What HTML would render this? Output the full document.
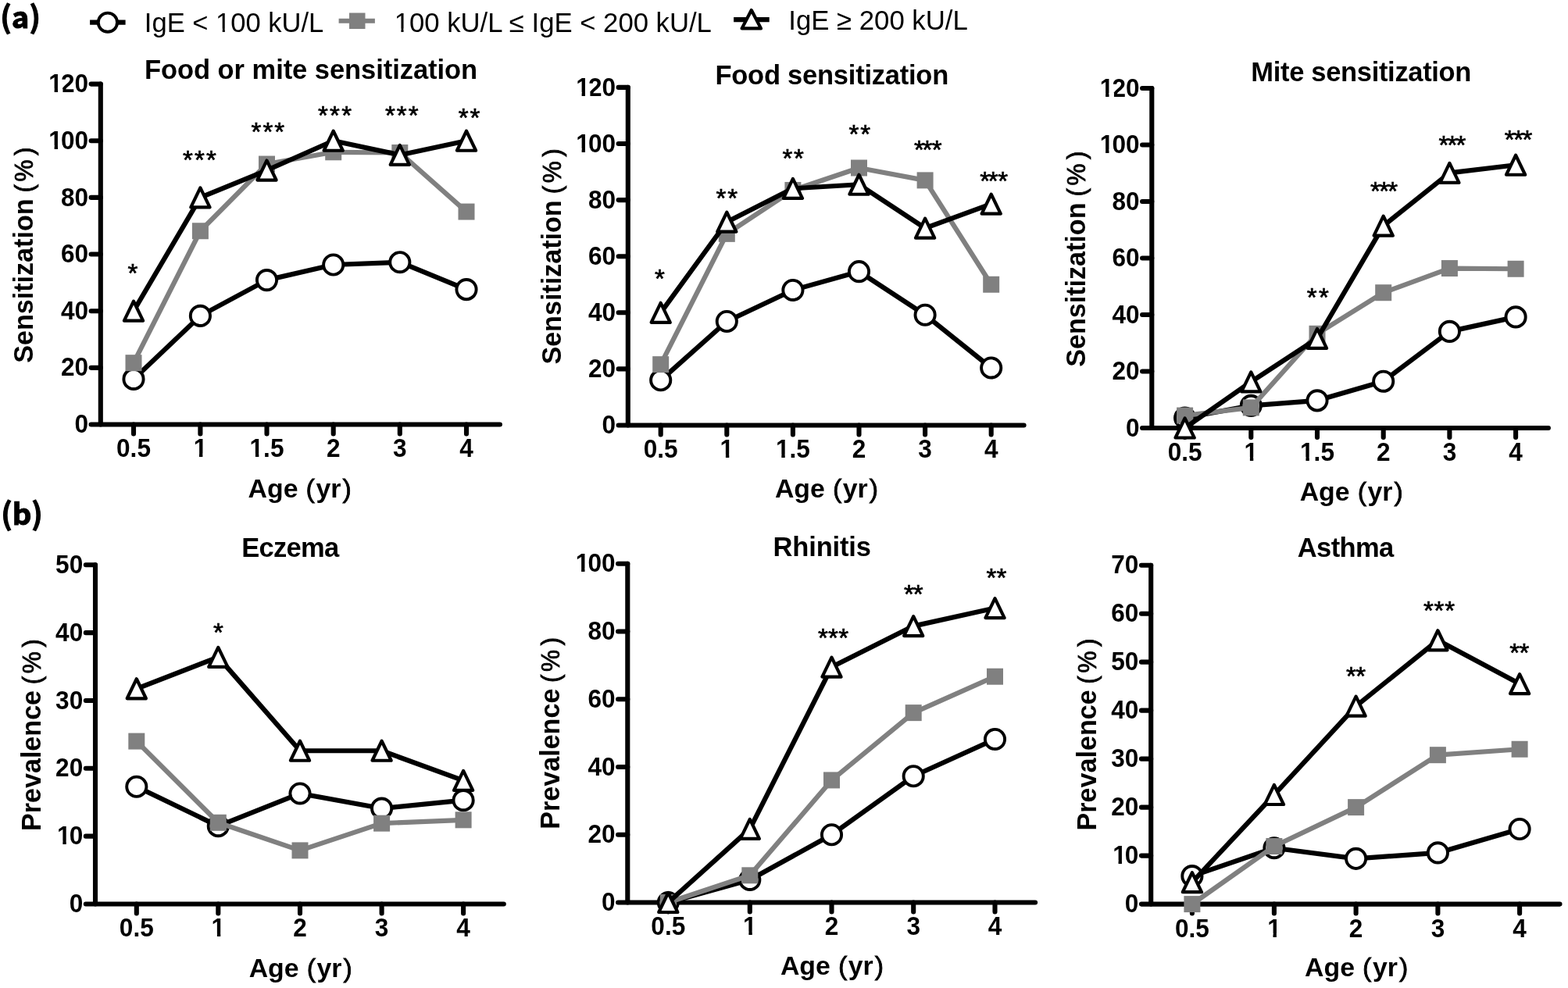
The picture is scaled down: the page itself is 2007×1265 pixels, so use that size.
<!DOCTYPE html>
<html><head><meta charset="utf-8"><title>IgE sensitization and prevalence</title>
<style>html,body{margin:0;padding:0;background:#fff;width:2007px;height:1265px;overflow:hidden}svg{display:block}</style>
</head><body>
<svg xmlns="http://www.w3.org/2000/svg" width="2007" height="1265" viewBox="0 0 2007 1265">
<g>
<path d="M128.8 107.6L128.8 543.5L639.9 543.5" fill="none" stroke="#000" stroke-width="6.1" stroke-linejoin="round" stroke-linecap="round"/>
<path d="M116.6 543.5H128.8M116.6 470.85H128.8M116.6 398.2H128.8M116.6 325.55H128.8M116.6 252.9H128.8M116.6 180.25H128.8M116.6 107.6H128.8M171 543.5V555.4M256.4 543.5V555.4M341.5 543.5V555.4M426.7 543.5V555.4M511.8 543.5V555.4M597 543.5V555.4" fill="none" stroke="#000" stroke-width="6.1" stroke-linecap="round"/>
<text x="-18.57" y="0" transform="translate(113 554.1) scale(0.945 1)" style="font-family:'Liberation Sans',Arial,sans-serif;font-weight:bold;font-size:33.4px">0</text>
<text x="-37.14" y="0" transform="translate(113 481.45) scale(0.945 1)" style="font-family:'Liberation Sans',Arial,sans-serif;font-weight:bold;font-size:33.4px">20</text>
<text x="-37.14" y="0" transform="translate(113 408.8) scale(0.945 1)" style="font-family:'Liberation Sans',Arial,sans-serif;font-weight:bold;font-size:33.4px">40</text>
<text x="-37.14" y="0" transform="translate(113 336.15) scale(0.945 1)" style="font-family:'Liberation Sans',Arial,sans-serif;font-weight:bold;font-size:33.4px">60</text>
<text x="-37.14" y="0" transform="translate(113 263.5) scale(0.945 1)" style="font-family:'Liberation Sans',Arial,sans-serif;font-weight:bold;font-size:33.4px">80</text>
<text x="-55.71" y="0" transform="translate(113 190.85) scale(0.945 1)" style="font-family:'Liberation Sans',Arial,sans-serif;font-weight:bold;font-size:33.4px"><tspan dx="2.0">1</tspan><tspan dx="-2.0">00</tspan></text>
<text x="-55.71" y="0" transform="translate(113 118.2) scale(0.945 1)" style="font-family:'Liberation Sans',Arial,sans-serif;font-weight:bold;font-size:33.4px"><tspan dx="2.0">1</tspan><tspan dx="-2.0">20</tspan></text>
<text x="0" y="0" text-anchor="middle" transform="translate(171 585.4) scale(0.945 1)" style="font-family:'Liberation Sans',Arial,sans-serif;font-weight:bold;font-size:33.4px">0.5</text>
<text x="0" y="0" text-anchor="middle" transform="translate(256.4 585.4) scale(0.945 1)" style="font-family:'Liberation Sans',Arial,sans-serif;font-weight:bold;font-size:33.4px">1</text>
<text x="0" y="0" text-anchor="middle" transform="translate(341.5 585.4) scale(0.945 1)" style="font-family:'Liberation Sans',Arial,sans-serif;font-weight:bold;font-size:33.4px">1.5</text>
<text x="0" y="0" text-anchor="middle" transform="translate(426.7 585.4) scale(0.945 1)" style="font-family:'Liberation Sans',Arial,sans-serif;font-weight:bold;font-size:33.4px">2</text>
<text x="0" y="0" text-anchor="middle" transform="translate(511.8 585.4) scale(0.945 1)" style="font-family:'Liberation Sans',Arial,sans-serif;font-weight:bold;font-size:33.4px">3</text>
<text x="0" y="0" text-anchor="middle" transform="translate(597 585.4) scale(0.945 1)" style="font-family:'Liberation Sans',Arial,sans-serif;font-weight:bold;font-size:33.4px">4</text>
<polyline points="171,485.38 256.4,404.38 341.5,358.61 426.7,338.99 511.8,335.72 597,370.59" fill="none" stroke="#000" stroke-width="6.2" stroke-linejoin="round"/>
<circle cx="171" cy="485.38" r="12.6" fill="#fff" stroke="#000" stroke-width="3.9"/>
<circle cx="256.4" cy="404.38" r="12.6" fill="#fff" stroke="#000" stroke-width="3.9"/>
<circle cx="341.5" cy="358.61" r="12.6" fill="#fff" stroke="#000" stroke-width="3.9"/>
<circle cx="426.7" cy="338.99" r="12.6" fill="#fff" stroke="#000" stroke-width="3.9"/>
<circle cx="511.8" cy="335.72" r="12.6" fill="#fff" stroke="#000" stroke-width="3.9"/>
<circle cx="597" cy="370.59" r="12.6" fill="#fff" stroke="#000" stroke-width="3.9"/>
<polyline points="171,464.67 256.4,295.76 341.5,210.04 426.7,194.78 511.8,195.51 597,271.06" fill="none" stroke="#808080" stroke-width="6.2" stroke-linejoin="round"/>
<rect x="160.5" y="454.17" width="21" height="21" fill="#808080"/>
<rect x="245.9" y="285.26" width="21" height="21" fill="#808080"/>
<rect x="331" y="199.54" width="21" height="21" fill="#808080"/>
<rect x="416.2" y="184.28" width="21" height="21" fill="#808080"/>
<rect x="501.3" y="185.01" width="21" height="21" fill="#808080"/>
<rect x="586.5" y="260.56" width="21" height="21" fill="#808080"/>
<polyline points="171,398.2 256.4,252.9 341.5,218.03 426.7,180.25 511.8,198.41 597,180.25" fill="none" stroke="#000" stroke-width="6.2" stroke-linejoin="round"/>
<path d="M171 385.7L183.1 410.7L158.9 410.7Z" fill="#fff" stroke="#000" stroke-width="4.2" stroke-linejoin="round"/>
<path d="M256.4 240.4L268.5 265.4L244.3 265.4Z" fill="#fff" stroke="#000" stroke-width="4.2" stroke-linejoin="round"/>
<path d="M341.5 205.53L353.6 230.53L329.4 230.53Z" fill="#fff" stroke="#000" stroke-width="4.2" stroke-linejoin="round"/>
<path d="M426.7 167.75L438.8 192.75L414.6 192.75Z" fill="#fff" stroke="#000" stroke-width="4.2" stroke-linejoin="round"/>
<path d="M511.8 185.91L523.9 210.91L499.7 210.91Z" fill="#fff" stroke="#000" stroke-width="4.2" stroke-linejoin="round"/>
<path d="M597 167.75L609.1 192.75L584.9 192.75Z" fill="#fff" stroke="#000" stroke-width="4.2" stroke-linejoin="round"/>
<text x="163.59" y="361.44" style="font-family:'Liberation Sans',Arial,sans-serif;font-size:33.0px;stroke:#000;stroke-width:0.7">*</text>
<text x="234.08 248.99 263.9" y="215.54" style="font-family:'Liberation Sans',Arial,sans-serif;font-size:33.0px;stroke:#000;stroke-width:0.7">***</text>
<text x="321.58 336.44 351.3" y="180.04" style="font-family:'Liberation Sans',Arial,sans-serif;font-size:33.0px;stroke:#000;stroke-width:0.7">***</text>
<text x="406.88 422.04 437.2" y="159.44" style="font-family:'Liberation Sans',Arial,sans-serif;font-size:33.0px;stroke:#000;stroke-width:0.7">***</text>
<text x="492.98 507.84 522.7" y="159.44" style="font-family:'Liberation Sans',Arial,sans-serif;font-size:33.0px;stroke:#000;stroke-width:0.7">***</text>
<text x="586.68 601.6" y="161.64" style="font-family:'Liberation Sans',Arial,sans-serif;font-size:33.0px;stroke:#000;stroke-width:0.7">**</text>
<text x="398.02" y="101.3" text-anchor="middle" style="font-family:'Liberation Sans',Arial,sans-serif;font-weight:bold;font-size:34.5px;letter-spacing:-0.05px">Food or mite sensitization</text>
<text x="0" y="0" transform="translate(42.3 464.7) rotate(-90) scale(1 1.05)" style="font-family:'Liberation Sans',Arial,sans-serif;font-weight:bold;font-size:34.1px">Sensitization<tspan x="209.5" style="font-weight:normal;font-size:31.5px;stroke:#000;stroke-width:0.8"> (</tspan><tspan x="232.3" style="font-weight:normal;font-size:31.5px;stroke:#000;stroke-width:0.8">%</tspan><tspan x="265.8" style="font-weight:normal;font-size:31.5px;stroke:#000;stroke-width:0.8">)</tspan></text>
<text x="317.6" y="636.6" style="font-family:'Liberation Sans',Arial,sans-serif;font-weight:bold;font-size:33.8px">Age<tspan x="391.6" style="font-weight:normal;font-size:34px;stroke:#000;stroke-width:0.8">(</tspan><tspan x="404.4">yr</tspan><tspan x="438.4" style="font-weight:normal;font-size:34px;stroke:#000;stroke-width:0.8">)</tspan></text>
</g>
<g>
<path d="M803.8 111.9L803.8 544.5L1310.6 544.5" fill="none" stroke="#000" stroke-width="6.1" stroke-linejoin="round" stroke-linecap="round"/>
<path d="M791.6 544.5H803.8M791.6 472.4H803.8M791.6 400.3H803.8M791.6 328.2H803.8M791.6 256.1H803.8M791.6 184H803.8M791.6 111.9H803.8M845.7 544.5V556.4M930.3 544.5V556.4M1014.9 544.5V556.4M1099.5 544.5V556.4M1184.1 544.5V556.4M1268.7 544.5V556.4" fill="none" stroke="#000" stroke-width="6.1" stroke-linecap="round"/>
<text x="-18.57" y="0" transform="translate(788 555.1) scale(0.945 1)" style="font-family:'Liberation Sans',Arial,sans-serif;font-weight:bold;font-size:33.4px">0</text>
<text x="-37.14" y="0" transform="translate(788 483) scale(0.945 1)" style="font-family:'Liberation Sans',Arial,sans-serif;font-weight:bold;font-size:33.4px">20</text>
<text x="-37.14" y="0" transform="translate(788 410.9) scale(0.945 1)" style="font-family:'Liberation Sans',Arial,sans-serif;font-weight:bold;font-size:33.4px">40</text>
<text x="-37.14" y="0" transform="translate(788 338.8) scale(0.945 1)" style="font-family:'Liberation Sans',Arial,sans-serif;font-weight:bold;font-size:33.4px">60</text>
<text x="-37.14" y="0" transform="translate(788 266.7) scale(0.945 1)" style="font-family:'Liberation Sans',Arial,sans-serif;font-weight:bold;font-size:33.4px">80</text>
<text x="-55.71" y="0" transform="translate(788 194.6) scale(0.945 1)" style="font-family:'Liberation Sans',Arial,sans-serif;font-weight:bold;font-size:33.4px"><tspan dx="2.0">1</tspan><tspan dx="-2.0">00</tspan></text>
<text x="-55.71" y="0" transform="translate(788 122.5) scale(0.945 1)" style="font-family:'Liberation Sans',Arial,sans-serif;font-weight:bold;font-size:33.4px"><tspan dx="2.0">1</tspan><tspan dx="-2.0">20</tspan></text>
<text x="0" y="0" text-anchor="middle" transform="translate(845.7 586.4) scale(0.945 1)" style="font-family:'Liberation Sans',Arial,sans-serif;font-weight:bold;font-size:33.4px">0.5</text>
<text x="0" y="0" text-anchor="middle" transform="translate(930.3 586.4) scale(0.945 1)" style="font-family:'Liberation Sans',Arial,sans-serif;font-weight:bold;font-size:33.4px">1</text>
<text x="0" y="0" text-anchor="middle" transform="translate(1014.9 586.4) scale(0.945 1)" style="font-family:'Liberation Sans',Arial,sans-serif;font-weight:bold;font-size:33.4px">1.5</text>
<text x="0" y="0" text-anchor="middle" transform="translate(1099.5 586.4) scale(0.945 1)" style="font-family:'Liberation Sans',Arial,sans-serif;font-weight:bold;font-size:33.4px">2</text>
<text x="0" y="0" text-anchor="middle" transform="translate(1184.1 586.4) scale(0.945 1)" style="font-family:'Liberation Sans',Arial,sans-serif;font-weight:bold;font-size:33.4px">3</text>
<text x="0" y="0" text-anchor="middle" transform="translate(1268.7 586.4) scale(0.945 1)" style="font-family:'Liberation Sans',Arial,sans-serif;font-weight:bold;font-size:33.4px">4</text>
<polyline points="845.7,486.82 930.3,411.48 1014.9,371.46 1099.5,347.67 1184.1,403.18 1268.7,470.96" fill="none" stroke="#000" stroke-width="6.2" stroke-linejoin="round"/>
<circle cx="845.7" cy="486.82" r="12.6" fill="#fff" stroke="#000" stroke-width="3.9"/>
<circle cx="930.3" cy="411.48" r="12.6" fill="#fff" stroke="#000" stroke-width="3.9"/>
<circle cx="1014.9" cy="371.46" r="12.6" fill="#fff" stroke="#000" stroke-width="3.9"/>
<circle cx="1099.5" cy="347.67" r="12.6" fill="#fff" stroke="#000" stroke-width="3.9"/>
<circle cx="1184.1" cy="403.18" r="12.6" fill="#fff" stroke="#000" stroke-width="3.9"/>
<circle cx="1268.7" cy="470.96" r="12.6" fill="#fff" stroke="#000" stroke-width="3.9"/>
<polyline points="845.7,466.63 930.3,299.36 1014.9,243.48 1099.5,215 1184.1,230.87 1268.7,364.25" fill="none" stroke="#808080" stroke-width="6.2" stroke-linejoin="round"/>
<rect x="835.2" y="456.13" width="21" height="21" fill="#808080"/>
<rect x="919.8" y="288.86" width="21" height="21" fill="#808080"/>
<rect x="1004.4" y="232.98" width="21" height="21" fill="#808080"/>
<rect x="1089" y="204.5" width="21" height="21" fill="#808080"/>
<rect x="1173.6" y="220.37" width="21" height="21" fill="#808080"/>
<rect x="1258.2" y="353.75" width="21" height="21" fill="#808080"/>
<polyline points="845.7,400.3 930.3,284.22 1014.9,241.32 1099.5,236.27 1184.1,292.15 1268.7,261.15" fill="none" stroke="#000" stroke-width="6.2" stroke-linejoin="round"/>
<path d="M845.7 387.8L857.8 412.8L833.6 412.8Z" fill="#fff" stroke="#000" stroke-width="4.2" stroke-linejoin="round"/>
<path d="M930.3 271.72L942.4 296.72L918.2 296.72Z" fill="#fff" stroke="#000" stroke-width="4.2" stroke-linejoin="round"/>
<path d="M1014.9 228.82L1027 253.82L1002.8 253.82Z" fill="#fff" stroke="#000" stroke-width="4.2" stroke-linejoin="round"/>
<path d="M1099.5 223.77L1111.6 248.77L1087.4 248.77Z" fill="#fff" stroke="#000" stroke-width="4.2" stroke-linejoin="round"/>
<path d="M1184.1 279.65L1196.2 304.65L1172 304.65Z" fill="#fff" stroke="#000" stroke-width="4.2" stroke-linejoin="round"/>
<path d="M1268.7 248.65L1280.8 273.65L1256.6 273.65Z" fill="#fff" stroke="#000" stroke-width="4.2" stroke-linejoin="round"/>
<text x="838.04" y="368.14" style="font-family:'Liberation Sans',Arial,sans-serif;font-size:33.0px;stroke:#000;stroke-width:0.7">*</text>
<text x="916.58 931.3" y="265.44" style="font-family:'Liberation Sans',Arial,sans-serif;font-size:33.0px;stroke:#000;stroke-width:0.7">**</text>
<text x="1001.38 1016.1" y="213.64" style="font-family:'Liberation Sans',Arial,sans-serif;font-size:33.0px;stroke:#000;stroke-width:0.7">**</text>
<text x="1086.58 1101.3" y="182.84" style="font-family:'Liberation Sans',Arial,sans-serif;font-size:33.0px;stroke:#000;stroke-width:0.7">**</text>
<text x="1169.94 1180.44 1192.64" y="202.84" style="font-family:'Liberation Sans',Arial,sans-serif;font-size:33.0px;stroke:#000;stroke-width:0.7">***</text>
<text x="1254.34 1264.84 1277.34" y="242.54" style="font-family:'Liberation Sans',Arial,sans-serif;font-size:33.0px;stroke:#000;stroke-width:0.7">***</text>
<text x="1064.68" y="107.5" text-anchor="middle" style="font-family:'Liberation Sans',Arial,sans-serif;font-weight:bold;font-size:34.5px;letter-spacing:-0.235px">Food sensitization</text>
<text x="0" y="0" transform="translate(717.5 466.6) rotate(-90) scale(1 1.05)" style="font-family:'Liberation Sans',Arial,sans-serif;font-weight:bold;font-size:34.1px">Sensitization<tspan x="209.5" style="font-weight:normal;font-size:31.5px;stroke:#000;stroke-width:0.8"> (</tspan><tspan x="232.3" style="font-weight:normal;font-size:31.5px;stroke:#000;stroke-width:0.8">%</tspan><tspan x="265.8" style="font-weight:normal;font-size:31.5px;stroke:#000;stroke-width:0.8">)</tspan></text>
<text x="991.9" y="637.3" style="font-family:'Liberation Sans',Arial,sans-serif;font-weight:bold;font-size:33.8px">Age<tspan x="1065.9" style="font-weight:normal;font-size:34px;stroke:#000;stroke-width:0.8">(</tspan><tspan x="1078.7">yr</tspan><tspan x="1112.7" style="font-weight:normal;font-size:34px;stroke:#000;stroke-width:0.8">)</tspan></text>
</g>
<g>
<path d="M1474.3 113L1474.3 548L1981.9 548" fill="none" stroke="#000" stroke-width="6.1" stroke-linejoin="round" stroke-linecap="round"/>
<path d="M1462.1 548H1474.3M1462.1 475.5H1474.3M1462.1 403H1474.3M1462.1 330.5H1474.3M1462.1 258H1474.3M1462.1 185.5H1474.3M1462.1 113H1474.3M1516.6 548V559.9M1601.3 548V559.9M1686 548V559.9M1770.7 548V559.9M1855.4 548V559.9M1940.1 548V559.9" fill="none" stroke="#000" stroke-width="6.1" stroke-linecap="round"/>
<text x="-18.57" y="0" transform="translate(1458.5 558.6) scale(0.945 1)" style="font-family:'Liberation Sans',Arial,sans-serif;font-weight:bold;font-size:33.4px">0</text>
<text x="-37.14" y="0" transform="translate(1458.5 486.1) scale(0.945 1)" style="font-family:'Liberation Sans',Arial,sans-serif;font-weight:bold;font-size:33.4px">20</text>
<text x="-37.14" y="0" transform="translate(1458.5 413.6) scale(0.945 1)" style="font-family:'Liberation Sans',Arial,sans-serif;font-weight:bold;font-size:33.4px">40</text>
<text x="-37.14" y="0" transform="translate(1458.5 341.1) scale(0.945 1)" style="font-family:'Liberation Sans',Arial,sans-serif;font-weight:bold;font-size:33.4px">60</text>
<text x="-37.14" y="0" transform="translate(1458.5 268.6) scale(0.945 1)" style="font-family:'Liberation Sans',Arial,sans-serif;font-weight:bold;font-size:33.4px">80</text>
<text x="-55.71" y="0" transform="translate(1458.5 196.1) scale(0.945 1)" style="font-family:'Liberation Sans',Arial,sans-serif;font-weight:bold;font-size:33.4px"><tspan dx="2.0">1</tspan><tspan dx="-2.0">00</tspan></text>
<text x="-55.71" y="0" transform="translate(1458.5 123.6) scale(0.945 1)" style="font-family:'Liberation Sans',Arial,sans-serif;font-weight:bold;font-size:33.4px"><tspan dx="2.0">1</tspan><tspan dx="-2.0">20</tspan></text>
<text x="0" y="0" text-anchor="middle" transform="translate(1516.6 589.9) scale(0.945 1)" style="font-family:'Liberation Sans',Arial,sans-serif;font-weight:bold;font-size:33.4px">0.5</text>
<text x="0" y="0" text-anchor="middle" transform="translate(1601.3 589.9) scale(0.945 1)" style="font-family:'Liberation Sans',Arial,sans-serif;font-weight:bold;font-size:33.4px">1</text>
<text x="0" y="0" text-anchor="middle" transform="translate(1686 589.9) scale(0.945 1)" style="font-family:'Liberation Sans',Arial,sans-serif;font-weight:bold;font-size:33.4px">1.5</text>
<text x="0" y="0" text-anchor="middle" transform="translate(1770.7 589.9) scale(0.945 1)" style="font-family:'Liberation Sans',Arial,sans-serif;font-weight:bold;font-size:33.4px">2</text>
<text x="0" y="0" text-anchor="middle" transform="translate(1855.4 589.9) scale(0.945 1)" style="font-family:'Liberation Sans',Arial,sans-serif;font-weight:bold;font-size:33.4px">3</text>
<text x="0" y="0" text-anchor="middle" transform="translate(1940.1 589.9) scale(0.945 1)" style="font-family:'Liberation Sans',Arial,sans-serif;font-weight:bold;font-size:33.4px">4</text>
<polyline points="1516.6,534.95 1601.3,519.36 1686,512.84 1770.7,488.19 1855.4,424.39 1940.1,405.9" fill="none" stroke="#000" stroke-width="6.2" stroke-linejoin="round"/>
<circle cx="1516.6" cy="534.95" r="12.6" fill="#fff" stroke="#000" stroke-width="3.9"/>
<circle cx="1601.3" cy="519.36" r="12.6" fill="#fff" stroke="#000" stroke-width="3.9"/>
<circle cx="1686" cy="512.84" r="12.6" fill="#fff" stroke="#000" stroke-width="3.9"/>
<circle cx="1770.7" cy="488.19" r="12.6" fill="#fff" stroke="#000" stroke-width="3.9"/>
<circle cx="1855.4" cy="424.39" r="12.6" fill="#fff" stroke="#000" stroke-width="3.9"/>
<circle cx="1940.1" cy="405.9" r="12.6" fill="#fff" stroke="#000" stroke-width="3.9"/>
<polyline points="1516.6,532.05 1601.3,521.9 1686,427.29 1770.7,374.73 1855.4,343.55 1940.1,344.27" fill="none" stroke="#808080" stroke-width="6.2" stroke-linejoin="round"/>
<rect x="1506.1" y="521.55" width="21" height="21" fill="#808080"/>
<rect x="1590.8" y="511.4" width="21" height="21" fill="#808080"/>
<rect x="1675.5" y="416.79" width="21" height="21" fill="#808080"/>
<rect x="1760.2" y="364.23" width="21" height="21" fill="#808080"/>
<rect x="1844.9" y="333.05" width="21" height="21" fill="#808080"/>
<rect x="1929.6" y="333.77" width="21" height="21" fill="#808080"/>
<polyline points="1516.6,548 1601.3,488.91 1686,433.45 1770.7,289.17 1855.4,221.39 1940.1,211.24" fill="none" stroke="#000" stroke-width="6.2" stroke-linejoin="round"/>
<path d="M1516.6 535.5L1528.7 560.5L1504.5 560.5Z" fill="#fff" stroke="#000" stroke-width="4.2" stroke-linejoin="round"/>
<path d="M1601.3 476.41L1613.4 501.41L1589.2 501.41Z" fill="#fff" stroke="#000" stroke-width="4.2" stroke-linejoin="round"/>
<path d="M1686 420.95L1698.1 445.95L1673.9 445.95Z" fill="#fff" stroke="#000" stroke-width="4.2" stroke-linejoin="round"/>
<path d="M1770.7 276.67L1782.8 301.67L1758.6 301.67Z" fill="#fff" stroke="#000" stroke-width="4.2" stroke-linejoin="round"/>
<path d="M1855.4 208.89L1867.5 233.89L1843.3 233.89Z" fill="#fff" stroke="#000" stroke-width="4.2" stroke-linejoin="round"/>
<path d="M1940.1 198.74L1952.2 223.74L1928 223.74Z" fill="#fff" stroke="#000" stroke-width="4.2" stroke-linejoin="round"/>
<text x="1672.68 1687.9" y="391.74" style="font-family:'Liberation Sans',Arial,sans-serif;font-size:33.0px;stroke:#000;stroke-width:0.7">**</text>
<text x="1754.08 1765.19 1776.3" y="256.34" style="font-family:'Liberation Sans',Arial,sans-serif;font-size:33.0px;stroke:#000;stroke-width:0.7">***</text>
<text x="1841.38 1852.49 1863.6" y="196.54" style="font-family:'Liberation Sans',Arial,sans-serif;font-size:33.0px;stroke:#000;stroke-width:0.7">***</text>
<text x="1925.78 1937.14 1948.5" y="189.94" style="font-family:'Liberation Sans',Arial,sans-serif;font-size:33.0px;stroke:#000;stroke-width:0.7">***</text>
<text x="1742.24" y="104.4" text-anchor="middle" style="font-family:'Liberation Sans',Arial,sans-serif;font-weight:bold;font-size:34.5px;letter-spacing:-0.32px">Mite sensitization</text>
<text x="0" y="0" transform="translate(1389.3 469.8) rotate(-90) scale(1 1.05)" style="font-family:'Liberation Sans',Arial,sans-serif;font-weight:bold;font-size:34.1px">Sensitization<tspan x="209.5" style="font-weight:normal;font-size:31.5px;stroke:#000;stroke-width:0.8"> (</tspan><tspan x="232.3" style="font-weight:normal;font-size:31.5px;stroke:#000;stroke-width:0.8">%</tspan><tspan x="265.8" style="font-weight:normal;font-size:31.5px;stroke:#000;stroke-width:0.8">)</tspan></text>
<text x="1663.7" y="640.9" style="font-family:'Liberation Sans',Arial,sans-serif;font-weight:bold;font-size:33.8px">Age<tspan x="1737.7" style="font-weight:normal;font-size:34px;stroke:#000;stroke-width:0.8">(</tspan><tspan x="1750.5">yr</tspan><tspan x="1784.5" style="font-weight:normal;font-size:34px;stroke:#000;stroke-width:0.8">)</tspan></text>
</g>
<g>
<path d="M122 723.3L122 1157.5L644.8 1157.5" fill="none" stroke="#000" stroke-width="6.1" stroke-linejoin="round" stroke-linecap="round"/>
<path d="M109.8 1157.5H122M109.8 1070.66H122M109.8 983.82H122M109.8 896.98H122M109.8 810.14H122M109.8 723.3H122M174.8 1157.5V1169.4M279.3 1157.5V1169.4M384 1157.5V1169.4M488.6 1157.5V1169.4M593.1 1157.5V1169.4" fill="none" stroke="#000" stroke-width="6.1" stroke-linecap="round"/>
<text x="-18.57" y="0" transform="translate(106.2 1168.1) scale(0.945 1)" style="font-family:'Liberation Sans',Arial,sans-serif;font-weight:bold;font-size:33.4px">0</text>
<text x="-37.14" y="0" transform="translate(106.2 1081.26) scale(0.945 1)" style="font-family:'Liberation Sans',Arial,sans-serif;font-weight:bold;font-size:33.4px"><tspan dx="2.0">1</tspan><tspan dx="-2.0">0</tspan></text>
<text x="-37.14" y="0" transform="translate(106.2 994.42) scale(0.945 1)" style="font-family:'Liberation Sans',Arial,sans-serif;font-weight:bold;font-size:33.4px">20</text>
<text x="-37.14" y="0" transform="translate(106.2 907.58) scale(0.945 1)" style="font-family:'Liberation Sans',Arial,sans-serif;font-weight:bold;font-size:33.4px">30</text>
<text x="-37.14" y="0" transform="translate(106.2 820.74) scale(0.945 1)" style="font-family:'Liberation Sans',Arial,sans-serif;font-weight:bold;font-size:33.4px">40</text>
<text x="-37.14" y="0" transform="translate(106.2 733.9) scale(0.945 1)" style="font-family:'Liberation Sans',Arial,sans-serif;font-weight:bold;font-size:33.4px">50</text>
<text x="0" y="0" text-anchor="middle" transform="translate(174.8 1199.4) scale(0.945 1)" style="font-family:'Liberation Sans',Arial,sans-serif;font-weight:bold;font-size:33.4px">0.5</text>
<text x="0" y="0" text-anchor="middle" transform="translate(279.3 1199.4) scale(0.945 1)" style="font-family:'Liberation Sans',Arial,sans-serif;font-weight:bold;font-size:33.4px">1</text>
<text x="0" y="0" text-anchor="middle" transform="translate(384 1199.4) scale(0.945 1)" style="font-family:'Liberation Sans',Arial,sans-serif;font-weight:bold;font-size:33.4px">2</text>
<text x="0" y="0" text-anchor="middle" transform="translate(488.6 1199.4) scale(0.945 1)" style="font-family:'Liberation Sans',Arial,sans-serif;font-weight:bold;font-size:33.4px">3</text>
<text x="0" y="0" text-anchor="middle" transform="translate(593.1 1199.4) scale(0.945 1)" style="font-family:'Liberation Sans',Arial,sans-serif;font-weight:bold;font-size:33.4px">4</text>
<polyline points="174.8,1007.27 279.3,1057.63 384,1015.95 488.6,1035.06 593.1,1024.63" fill="none" stroke="#000" stroke-width="6.2" stroke-linejoin="round"/>
<circle cx="174.8" cy="1007.27" r="12.6" fill="#fff" stroke="#000" stroke-width="3.9"/>
<circle cx="279.3" cy="1057.63" r="12.6" fill="#fff" stroke="#000" stroke-width="3.9"/>
<circle cx="384" cy="1015.95" r="12.6" fill="#fff" stroke="#000" stroke-width="3.9"/>
<circle cx="488.6" cy="1035.06" r="12.6" fill="#fff" stroke="#000" stroke-width="3.9"/>
<circle cx="593.1" cy="1024.63" r="12.6" fill="#fff" stroke="#000" stroke-width="3.9"/>
<polyline points="174.8,949.08 279.3,1053.29 384,1088.9 488.6,1054.16 593.1,1049.82" fill="none" stroke="#808080" stroke-width="6.2" stroke-linejoin="round"/>
<rect x="164.3" y="938.58" width="21" height="21" fill="#808080"/>
<rect x="268.8" y="1042.79" width="21" height="21" fill="#808080"/>
<rect x="373.5" y="1078.4" width="21" height="21" fill="#808080"/>
<rect x="478.1" y="1043.66" width="21" height="21" fill="#808080"/>
<rect x="582.6" y="1039.32" width="21" height="21" fill="#808080"/>
<polyline points="174.8,881.78 279.3,841.4 384,961.24 488.6,961.24 593.1,999.45" fill="none" stroke="#000" stroke-width="6.2" stroke-linejoin="round"/>
<path d="M174.8 869.28L186.9 894.28L162.7 894.28Z" fill="#fff" stroke="#000" stroke-width="4.2" stroke-linejoin="round"/>
<path d="M279.3 828.9L291.4 853.9L267.2 853.9Z" fill="#fff" stroke="#000" stroke-width="4.2" stroke-linejoin="round"/>
<path d="M384 948.74L396.1 973.74L371.9 973.74Z" fill="#fff" stroke="#000" stroke-width="4.2" stroke-linejoin="round"/>
<path d="M488.6 948.74L500.7 973.74L476.5 973.74Z" fill="#fff" stroke="#000" stroke-width="4.2" stroke-linejoin="round"/>
<path d="M593.1 986.95L605.2 1011.95L581 1011.95Z" fill="#fff" stroke="#000" stroke-width="4.2" stroke-linejoin="round"/>
<text x="272.94" y="821.04" style="font-family:'Liberation Sans',Arial,sans-serif;font-size:33.0px;stroke:#000;stroke-width:0.7">*</text>
<text x="371.38" y="713.2" text-anchor="middle" style="font-family:'Liberation Sans',Arial,sans-serif;font-weight:bold;font-size:34.5px;letter-spacing:-0.74px">Eczema</text>
<text x="0" y="0" transform="translate(52.2 1064) rotate(-90) scale(1 1.05)" style="font-family:'Liberation Sans',Arial,sans-serif;font-weight:bold;font-size:34.1px">Prevalence<tspan x="179" style="font-weight:normal;font-size:31.5px;stroke:#000;stroke-width:0.8"> (</tspan><tspan x="201.8" style="font-weight:normal;font-size:31.5px;stroke:#000;stroke-width:0.8">%</tspan><tspan x="235.3" style="font-weight:normal;font-size:31.5px;stroke:#000;stroke-width:0.8">)</tspan></text>
<text x="318.7" y="1250.7" style="font-family:'Liberation Sans',Arial,sans-serif;font-weight:bold;font-size:33.8px">Age<tspan x="392.7" style="font-weight:normal;font-size:34px;stroke:#000;stroke-width:0.8">(</tspan><tspan x="405.5">yr</tspan><tspan x="439.5" style="font-weight:normal;font-size:34px;stroke:#000;stroke-width:0.8">)</tspan></text>
</g>
<g>
<path d="M803.3 721.8L803.3 1155.5L1325.1 1155.5" fill="none" stroke="#000" stroke-width="6.1" stroke-linejoin="round" stroke-linecap="round"/>
<path d="M791.1 1155.5H803.3M791.1 1068.76H803.3M791.1 982.02H803.3M791.1 895.28H803.3M791.1 808.54H803.3M791.1 721.8H803.3M855.3 1155.5V1167.4M959.8 1155.5V1167.4M1064.5 1155.5V1167.4M1169.2 1155.5V1167.4M1273.5 1155.5V1167.4" fill="none" stroke="#000" stroke-width="6.1" stroke-linecap="round"/>
<text x="-18.57" y="0" transform="translate(787.5 1166.1) scale(0.945 1)" style="font-family:'Liberation Sans',Arial,sans-serif;font-weight:bold;font-size:33.4px">0</text>
<text x="-37.14" y="0" transform="translate(787.5 1079.36) scale(0.945 1)" style="font-family:'Liberation Sans',Arial,sans-serif;font-weight:bold;font-size:33.4px">20</text>
<text x="-37.14" y="0" transform="translate(787.5 992.62) scale(0.945 1)" style="font-family:'Liberation Sans',Arial,sans-serif;font-weight:bold;font-size:33.4px">40</text>
<text x="-37.14" y="0" transform="translate(787.5 905.88) scale(0.945 1)" style="font-family:'Liberation Sans',Arial,sans-serif;font-weight:bold;font-size:33.4px">60</text>
<text x="-37.14" y="0" transform="translate(787.5 819.14) scale(0.945 1)" style="font-family:'Liberation Sans',Arial,sans-serif;font-weight:bold;font-size:33.4px">80</text>
<text x="-55.71" y="0" transform="translate(787.5 732.4) scale(0.945 1)" style="font-family:'Liberation Sans',Arial,sans-serif;font-weight:bold;font-size:33.4px"><tspan dx="2.0">1</tspan><tspan dx="-2.0">00</tspan></text>
<text x="0" y="0" text-anchor="middle" transform="translate(855.3 1197.4) scale(0.945 1)" style="font-family:'Liberation Sans',Arial,sans-serif;font-weight:bold;font-size:33.4px">0.5</text>
<text x="0" y="0" text-anchor="middle" transform="translate(959.8 1197.4) scale(0.945 1)" style="font-family:'Liberation Sans',Arial,sans-serif;font-weight:bold;font-size:33.4px">1</text>
<text x="0" y="0" text-anchor="middle" transform="translate(1064.5 1197.4) scale(0.945 1)" style="font-family:'Liberation Sans',Arial,sans-serif;font-weight:bold;font-size:33.4px">2</text>
<text x="0" y="0" text-anchor="middle" transform="translate(1169.2 1197.4) scale(0.945 1)" style="font-family:'Liberation Sans',Arial,sans-serif;font-weight:bold;font-size:33.4px">3</text>
<text x="0" y="0" text-anchor="middle" transform="translate(1273.5 1197.4) scale(0.945 1)" style="font-family:'Liberation Sans',Arial,sans-serif;font-weight:bold;font-size:33.4px">4</text>
<polyline points="855.3,1155.5 959.8,1126.44 1064.5,1068.76 1169.2,993.73 1273.5,946.46" fill="none" stroke="#000" stroke-width="6.2" stroke-linejoin="round"/>
<circle cx="855.3" cy="1155.5" r="12.6" fill="#fff" stroke="#000" stroke-width="3.9"/>
<circle cx="959.8" cy="1126.44" r="12.6" fill="#fff" stroke="#000" stroke-width="3.9"/>
<circle cx="1064.5" cy="1068.76" r="12.6" fill="#fff" stroke="#000" stroke-width="3.9"/>
<circle cx="1169.2" cy="993.73" r="12.6" fill="#fff" stroke="#000" stroke-width="3.9"/>
<circle cx="1273.5" cy="946.46" r="12.6" fill="#fff" stroke="#000" stroke-width="3.9"/>
<polyline points="855.3,1155.5 959.8,1120.8 1064.5,998.93 1169.2,912.63 1273.5,866.22" fill="none" stroke="#808080" stroke-width="6.2" stroke-linejoin="round"/>
<rect x="844.8" y="1145" width="21" height="21" fill="#808080"/>
<rect x="949.3" y="1110.3" width="21" height="21" fill="#808080"/>
<rect x="1054" y="988.43" width="21" height="21" fill="#808080"/>
<rect x="1158.7" y="902.13" width="21" height="21" fill="#808080"/>
<rect x="1263" y="855.72" width="21" height="21" fill="#808080"/>
<polyline points="855.3,1155.5 959.8,1061.39 1064.5,854.08 1169.2,801.6 1273.5,778.61" fill="none" stroke="#000" stroke-width="6.2" stroke-linejoin="round"/>
<path d="M855.3 1143L867.4 1168L843.2 1168Z" fill="#fff" stroke="#000" stroke-width="4.2" stroke-linejoin="round"/>
<path d="M959.8 1048.89L971.9 1073.89L947.7 1073.89Z" fill="#fff" stroke="#000" stroke-width="4.2" stroke-linejoin="round"/>
<path d="M1064.5 841.58L1076.6 866.58L1052.4 866.58Z" fill="#fff" stroke="#000" stroke-width="4.2" stroke-linejoin="round"/>
<path d="M1169.2 789.1L1181.3 814.1L1157.1 814.1Z" fill="#fff" stroke="#000" stroke-width="4.2" stroke-linejoin="round"/>
<path d="M1273.5 766.11L1285.6 791.11L1261.4 791.11Z" fill="#fff" stroke="#000" stroke-width="4.2" stroke-linejoin="round"/>
<text x="1046.88 1060.09 1073.3" y="827.64" style="font-family:'Liberation Sans',Arial,sans-serif;font-size:33.0px;stroke:#000;stroke-width:0.7">***</text>
<text x="1156.98 1168.7" y="772.04" style="font-family:'Liberation Sans',Arial,sans-serif;font-size:33.0px;stroke:#000;stroke-width:0.7">**</text>
<text x="1262.58 1275.4" y="751.34" style="font-family:'Liberation Sans',Arial,sans-serif;font-size:33.0px;stroke:#000;stroke-width:0.7">**</text>
<text x="1052.17" y="711.5" text-anchor="middle" style="font-family:'Liberation Sans',Arial,sans-serif;font-weight:bold;font-size:34.5px;letter-spacing:-0.16px">Rhinitis</text>
<text x="0" y="0" transform="translate(716.3 1061.7) rotate(-90) scale(1 1.05)" style="font-family:'Liberation Sans',Arial,sans-serif;font-weight:bold;font-size:34.1px">Prevalence<tspan x="179" style="font-weight:normal;font-size:31.5px;stroke:#000;stroke-width:0.8"> (</tspan><tspan x="201.8" style="font-weight:normal;font-size:31.5px;stroke:#000;stroke-width:0.8">%</tspan><tspan x="235.3" style="font-weight:normal;font-size:31.5px;stroke:#000;stroke-width:0.8">)</tspan></text>
<text x="998.9" y="1248.3" style="font-family:'Liberation Sans',Arial,sans-serif;font-weight:bold;font-size:33.8px">Age<tspan x="1072.9" style="font-weight:normal;font-size:34px;stroke:#000;stroke-width:0.8">(</tspan><tspan x="1085.7">yr</tspan><tspan x="1119.7" style="font-weight:normal;font-size:34px;stroke:#000;stroke-width:0.8">)</tspan></text>
</g>
<g>
<path d="M1473.2 723.7L1473.2 1157.6L1996.5 1157.6" fill="none" stroke="#000" stroke-width="6.1" stroke-linejoin="round" stroke-linecap="round"/>
<path d="M1461 1157.6H1473.2M1461 1095.61H1473.2M1461 1033.63H1473.2M1461 971.64H1473.2M1461 909.66H1473.2M1461 847.67H1473.2M1461 785.69H1473.2M1461 723.7H1473.2M1525.9 1157.6V1169.5M1630.9 1157.6V1169.5M1735.6 1157.6V1169.5M1840.4 1157.6V1169.5M1945.1 1157.6V1169.5" fill="none" stroke="#000" stroke-width="6.1" stroke-linecap="round"/>
<text x="-18.57" y="0" transform="translate(1457.4 1168.2) scale(0.945 1)" style="font-family:'Liberation Sans',Arial,sans-serif;font-weight:bold;font-size:33.4px">0</text>
<text x="-37.14" y="0" transform="translate(1457.4 1106.21) scale(0.945 1)" style="font-family:'Liberation Sans',Arial,sans-serif;font-weight:bold;font-size:33.4px"><tspan dx="2.0">1</tspan><tspan dx="-2.0">0</tspan></text>
<text x="-37.14" y="0" transform="translate(1457.4 1044.23) scale(0.945 1)" style="font-family:'Liberation Sans',Arial,sans-serif;font-weight:bold;font-size:33.4px">20</text>
<text x="-37.14" y="0" transform="translate(1457.4 982.24) scale(0.945 1)" style="font-family:'Liberation Sans',Arial,sans-serif;font-weight:bold;font-size:33.4px">30</text>
<text x="-37.14" y="0" transform="translate(1457.4 920.26) scale(0.945 1)" style="font-family:'Liberation Sans',Arial,sans-serif;font-weight:bold;font-size:33.4px">40</text>
<text x="-37.14" y="0" transform="translate(1457.4 858.27) scale(0.945 1)" style="font-family:'Liberation Sans',Arial,sans-serif;font-weight:bold;font-size:33.4px">50</text>
<text x="-37.14" y="0" transform="translate(1457.4 796.29) scale(0.945 1)" style="font-family:'Liberation Sans',Arial,sans-serif;font-weight:bold;font-size:33.4px">60</text>
<text x="-37.14" y="0" transform="translate(1457.4 734.3) scale(0.945 1)" style="font-family:'Liberation Sans',Arial,sans-serif;font-weight:bold;font-size:33.4px">70</text>
<text x="0" y="0" text-anchor="middle" transform="translate(1525.9 1199.5) scale(0.945 1)" style="font-family:'Liberation Sans',Arial,sans-serif;font-weight:bold;font-size:33.4px">0.5</text>
<text x="0" y="0" text-anchor="middle" transform="translate(1630.9 1199.5) scale(0.945 1)" style="font-family:'Liberation Sans',Arial,sans-serif;font-weight:bold;font-size:33.4px">1</text>
<text x="0" y="0" text-anchor="middle" transform="translate(1735.6 1199.5) scale(0.945 1)" style="font-family:'Liberation Sans',Arial,sans-serif;font-weight:bold;font-size:33.4px">2</text>
<text x="0" y="0" text-anchor="middle" transform="translate(1840.4 1199.5) scale(0.945 1)" style="font-family:'Liberation Sans',Arial,sans-serif;font-weight:bold;font-size:33.4px">3</text>
<text x="0" y="0" text-anchor="middle" transform="translate(1945.1 1199.5) scale(0.945 1)" style="font-family:'Liberation Sans',Arial,sans-serif;font-weight:bold;font-size:33.4px">4</text>
<polyline points="1525.9,1121.65 1630.9,1085.7 1735.6,1099.33 1840.4,1091.9 1945.1,1061.52" fill="none" stroke="#000" stroke-width="6.2" stroke-linejoin="round"/>
<circle cx="1525.9" cy="1121.65" r="12.6" fill="#fff" stroke="#000" stroke-width="3.9"/>
<circle cx="1630.9" cy="1085.7" r="12.6" fill="#fff" stroke="#000" stroke-width="3.9"/>
<circle cx="1735.6" cy="1099.33" r="12.6" fill="#fff" stroke="#000" stroke-width="3.9"/>
<circle cx="1840.4" cy="1091.9" r="12.6" fill="#fff" stroke="#000" stroke-width="3.9"/>
<circle cx="1945.1" cy="1061.52" r="12.6" fill="#fff" stroke="#000" stroke-width="3.9"/>
<polyline points="1525.9,1157.6 1630.9,1083.53 1735.6,1033.63 1840.4,966.68 1945.1,959.25" fill="none" stroke="#808080" stroke-width="6.2" stroke-linejoin="round"/>
<rect x="1515.4" y="1147.1" width="21" height="21" fill="#808080"/>
<rect x="1620.4" y="1073.03" width="21" height="21" fill="#808080"/>
<rect x="1725.1" y="1023.13" width="21" height="21" fill="#808080"/>
<rect x="1829.9" y="956.18" width="21" height="21" fill="#808080"/>
<rect x="1934.6" y="948.75" width="21" height="21" fill="#808080"/>
<polyline points="1525.9,1129.71 1630.9,1017.51 1735.6,904.08 1840.4,819.78 1945.1,875.57" fill="none" stroke="#000" stroke-width="6.2" stroke-linejoin="round"/>
<path d="M1525.9 1117.21L1538 1142.21L1513.8 1142.21Z" fill="#fff" stroke="#000" stroke-width="4.2" stroke-linejoin="round"/>
<path d="M1630.9 1005.01L1643 1030.01L1618.8 1030.01Z" fill="#fff" stroke="#000" stroke-width="4.2" stroke-linejoin="round"/>
<path d="M1735.6 891.58L1747.7 916.58L1723.5 916.58Z" fill="#fff" stroke="#000" stroke-width="4.2" stroke-linejoin="round"/>
<path d="M1840.4 807.28L1852.5 832.28L1828.3 832.28Z" fill="#fff" stroke="#000" stroke-width="4.2" stroke-linejoin="round"/>
<path d="M1945.1 863.07L1957.2 888.07L1933 888.07Z" fill="#fff" stroke="#000" stroke-width="4.2" stroke-linejoin="round"/>
<text x="1722.88 1735.3" y="877.34" style="font-family:'Liberation Sans',Arial,sans-serif;font-size:33.0px;stroke:#000;stroke-width:0.7">**</text>
<text x="1821.88 1835.59 1849.3" y="792.64" style="font-family:'Liberation Sans',Arial,sans-serif;font-size:33.0px;stroke:#000;stroke-width:0.7">***</text>
<text x="1932.18 1944.6" y="846.84" style="font-family:'Liberation Sans',Arial,sans-serif;font-size:33.0px;stroke:#000;stroke-width:0.7">**</text>
<text x="1722.18" y="713" text-anchor="middle" style="font-family:'Liberation Sans',Arial,sans-serif;font-weight:bold;font-size:34.5px;letter-spacing:-0.64px">Asthma</text>
<text x="0" y="0" transform="translate(1403.4 1063.4) rotate(-90) scale(1 1.05)" style="font-family:'Liberation Sans',Arial,sans-serif;font-weight:bold;font-size:34.1px">Prevalence<tspan x="179" style="font-weight:normal;font-size:31.5px;stroke:#000;stroke-width:0.8"> (</tspan><tspan x="201.8" style="font-weight:normal;font-size:31.5px;stroke:#000;stroke-width:0.8">%</tspan><tspan x="235.3" style="font-weight:normal;font-size:31.5px;stroke:#000;stroke-width:0.8">)</tspan></text>
<text x="1670.1" y="1250.3" style="font-family:'Liberation Sans',Arial,sans-serif;font-weight:bold;font-size:33.8px">Age<tspan x="1744.1" style="font-weight:normal;font-size:34px;stroke:#000;stroke-width:0.8">(</tspan><tspan x="1756.9">yr</tspan><tspan x="1790.9" style="font-weight:normal;font-size:34px;stroke:#000;stroke-width:0.8">)</tspan></text>
</g>
<text x="0.3" y="36" style="font-family:'Noto Sans CJK JP','Liberation Sans',sans-serif;font-weight:bold;font-size:38.3px;stroke:#000;stroke-width:1.1">(a)</text>
<text x="1.2" y="672.1" style="font-family:'Noto Sans CJK JP','Liberation Sans',sans-serif;font-weight:bold;font-size:38.3px;stroke:#000;stroke-width:1.1">(b)</text>
<path d="M115.1 28.7H160.6" stroke="#000" stroke-width="6.2"/>
<circle cx="137.9" cy="28.7" r="12.1" fill="#fff" stroke="#000" stroke-width="3.9"/>
<text x="0" y="0" transform="translate(184.84 40.7) scale(0.965 1)" style="font-family:'Liberation Sans',Arial,sans-serif;font-size:35.8px">IgE &lt; 100 kU/L</text>
<path d="M433.6 26.7H479.9" stroke="#808080" stroke-width="6"/>
<rect x="447" y="16.5" width="20.5" height="20.5" fill="#808080"/>
<text x="0" y="0" transform="translate(504.73 40.7) scale(0.969 1)" style="font-family:'Liberation Sans',Arial,sans-serif;font-size:35.8px">100 kU/L ≤ IgE &lt; 200 kU/L</text>
<path d="M939.1 25.1H984.7" stroke="#000" stroke-width="6.4"/>
<path d="M961.8 13L974 36.4H949.6Z" fill="#fff" stroke="#000" stroke-width="4.2" stroke-linejoin="round"/>
<text x="0" y="0" transform="translate(1009.23 38.2) scale(0.971 1)" style="font-family:'Liberation Sans',Arial,sans-serif;font-size:35.8px">IgE ≥ 200 kU/L</text>
<g><rect x="62.66" y="186.21" width="6.95" height="5.44" fill="#fff"/><rect x="74" y="186.21" width="6.44" height="5.44" fill="#fff"/><rect x="62.66" y="113.56" width="6.95" height="5.44" fill="#fff"/><rect x="74" y="113.56" width="6.44" height="5.44" fill="#fff"/><rect x="248.05" y="580.76" width="6.95" height="5.44" fill="#fff"/><rect x="259.38" y="580.76" width="6.44" height="5.44" fill="#fff"/><rect x="319.98" y="580.76" width="6.95" height="5.44" fill="#fff"/><rect x="331.32" y="580.76" width="6.44" height="5.44" fill="#fff"/><rect x="737.66" y="189.96" width="6.95" height="5.44" fill="#fff"/><rect x="749" y="189.96" width="6.44" height="5.44" fill="#fff"/><rect x="737.66" y="117.86" width="6.95" height="5.44" fill="#fff"/><rect x="749" y="117.86" width="6.44" height="5.44" fill="#fff"/><rect x="921.95" y="581.76" width="6.95" height="5.44" fill="#fff"/><rect x="933.28" y="581.76" width="6.44" height="5.44" fill="#fff"/><rect x="993.38" y="581.76" width="6.95" height="5.44" fill="#fff"/><rect x="1004.72" y="581.76" width="6.44" height="5.44" fill="#fff"/><rect x="1408.16" y="191.46" width="6.95" height="5.44" fill="#fff"/><rect x="1419.5" y="191.46" width="6.44" height="5.44" fill="#fff"/><rect x="1408.16" y="118.96" width="6.95" height="5.44" fill="#fff"/><rect x="1419.5" y="118.96" width="6.44" height="5.44" fill="#fff"/><rect x="1592.95" y="585.26" width="6.95" height="5.44" fill="#fff"/><rect x="1604.28" y="585.26" width="6.44" height="5.44" fill="#fff"/><rect x="1664.48" y="585.26" width="6.95" height="5.44" fill="#fff"/><rect x="1675.82" y="585.26" width="6.44" height="5.44" fill="#fff"/><rect x="73.41" y="1076.62" width="6.95" height="5.44" fill="#fff"/><rect x="84.75" y="1076.62" width="6.44" height="5.44" fill="#fff"/><rect x="270.95" y="1194.76" width="6.95" height="5.44" fill="#fff"/><rect x="282.28" y="1194.76" width="6.44" height="5.44" fill="#fff"/><rect x="737.16" y="727.76" width="6.95" height="5.44" fill="#fff"/><rect x="748.5" y="727.76" width="6.44" height="5.44" fill="#fff"/><rect x="951.45" y="1192.76" width="6.95" height="5.44" fill="#fff"/><rect x="962.78" y="1192.76" width="6.44" height="5.44" fill="#fff"/><rect x="1424.61" y="1101.57" width="6.95" height="5.44" fill="#fff"/><rect x="1435.95" y="1101.57" width="6.44" height="5.44" fill="#fff"/><rect x="1622.55" y="1194.86" width="6.95" height="5.44" fill="#fff"/><rect x="1633.88" y="1194.86" width="6.44" height="5.44" fill="#fff"/><rect x="277.16" y="36.67" width="7.58" height="4.83" fill="#fff"/><rect x="287.85" y="36.67" width="7.37" height="4.83" fill="#fff"/><rect x="505.81" y="36.67" width="7.61" height="4.83" fill="#fff"/><rect x="516.55" y="36.67" width="7.4" height="4.83" fill="#fff"/></g>
</svg>
</body></html>
